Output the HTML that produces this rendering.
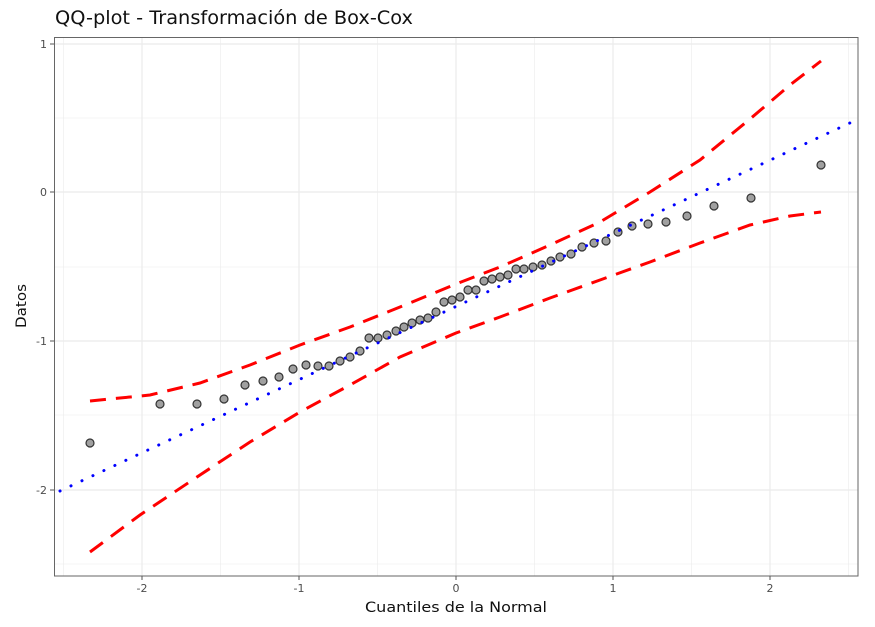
<!DOCTYPE html>
<html><head><meta charset="utf-8"><style>
body{margin:0;background:#fff;}
svg text{font-family:"DejaVu Sans","Liberation Sans",sans-serif;}
</style></head><body>
<svg width="875" height="622" xmlns="http://www.w3.org/2000/svg">
<rect width="875" height="622" fill="#fff"/>
<g stroke="#ebebeb" stroke-width="0.6">
<line x1="54" x2="858" y1="564" y2="564"/><line x1="54" x2="858" y1="415" y2="415"/><line x1="54" x2="858" y1="267" y2="267"/><line x1="54" x2="858" y1="118" y2="118"/>
<line y1="37" y2="576" x1="63.5" x2="63.5"/><line y1="37" y2="576" x1="220.5" x2="220.5"/><line y1="37" y2="576" x1="377.5" x2="377.5"/><line y1="37" y2="576" x1="534.5" x2="534.5"/><line y1="37" y2="576" x1="691.5" x2="691.5"/><line y1="37" y2="576" x1="848.5" x2="848.5"/>
</g>
<g stroke="#ebebeb" stroke-width="1.2">
<line x1="54" x2="858" y1="44" y2="44"/><line x1="54" x2="858" y1="192" y2="192"/><line x1="54" x2="858" y1="341" y2="341"/><line x1="54" x2="858" y1="490" y2="490"/>
<line y1="37" y2="576" x1="142" x2="142"/><line y1="37" y2="576" x1="299" x2="299"/><line y1="37" y2="576" x1="456" x2="456"/><line y1="37" y2="576" x1="613" x2="613"/><line y1="37" y2="576" x1="770" x2="770"/>
</g>
<g fill="#a0a0a0" stroke="#333" stroke-width="1.2">
<circle cx="90" cy="443" r="4"/><circle cx="160" cy="404" r="4"/><circle cx="197" cy="404" r="4"/><circle cx="224" cy="399" r="4"/><circle cx="245" cy="385" r="4"/><circle cx="263" cy="381" r="4"/><circle cx="279" cy="377" r="4"/><circle cx="293" cy="369" r="4"/><circle cx="306" cy="365" r="4"/><circle cx="318" cy="366" r="4"/><circle cx="329" cy="366" r="4"/><circle cx="340" cy="361" r="4"/><circle cx="350" cy="357" r="4"/><circle cx="360" cy="351" r="4"/><circle cx="369" cy="338" r="4"/><circle cx="378" cy="338" r="4"/><circle cx="387" cy="335" r="4"/><circle cx="396" cy="331" r="4"/><circle cx="404" cy="327" r="4"/><circle cx="412" cy="323" r="4"/><circle cx="420" cy="320" r="4"/><circle cx="428" cy="318" r="4"/><circle cx="436" cy="312" r="4"/><circle cx="444" cy="302" r="4"/><circle cx="452" cy="300" r="4"/><circle cx="460" cy="297" r="4"/><circle cx="468" cy="290" r="4"/><circle cx="476" cy="290" r="4"/><circle cx="484" cy="281" r="4"/><circle cx="492" cy="279" r="4"/><circle cx="500" cy="277" r="4"/><circle cx="508" cy="275" r="4"/><circle cx="516" cy="269" r="4"/><circle cx="524" cy="269" r="4"/><circle cx="533" cy="267" r="4"/><circle cx="542" cy="265" r="4"/><circle cx="551" cy="261" r="4"/><circle cx="560" cy="257" r="4"/><circle cx="571" cy="254" r="4"/><circle cx="582" cy="247" r="4"/><circle cx="594" cy="243" r="4"/><circle cx="606" cy="241" r="4"/><circle cx="618" cy="232" r="4"/><circle cx="632" cy="226" r="4"/><circle cx="648" cy="224" r="4"/><circle cx="666" cy="222" r="4"/><circle cx="687" cy="216" r="4"/><circle cx="714" cy="206" r="4"/><circle cx="751" cy="198" r="4"/><circle cx="821" cy="165" r="4"/>
</g>
<line x1="60" y1="491" x2="852" y2="122" stroke="#0000ff" stroke-width="3" stroke-dasharray="0.1 12" stroke-linecap="round"/>
<g fill="none" stroke="#ff0000" stroke-width="3" stroke-dasharray="16 10">
<polyline points="90,401 150,395 200,383 250,365 300,345 350,327 400,307 456,284 500,267 550,245 600,222 650,192 700,160 750,119 790,85 821,61"/>
<polyline points="90,552 140,515 200,475 250,442 300,412 350,385 400,357 456,333 500,317 550,298 600,280 650,262 700,243 750,225 790,216 821,212"/>
</g>
<rect x="54.5" y="37.5" width="803.5" height="538.5" fill="none" stroke="#666" stroke-width="1"/>
<g stroke="#555" stroke-width="1">
<line x1="50" x2="54" y1="44" y2="44"/><line x1="50" x2="54" y1="192" y2="192"/><line x1="50" x2="54" y1="341" y2="341"/><line x1="50" x2="54" y1="490" y2="490"/>
<line y1="576" y2="580" x1="142" x2="142"/><line y1="576" y2="580" x1="299" x2="299"/><line y1="576" y2="580" x1="456" x2="456"/><line y1="576" y2="580" x1="613" x2="613"/><line y1="576" y2="580" x1="770" x2="770"/>
</g>
<g font-size="11" fill="#4d4d4d" text-anchor="end">
<text x="47" y="48">1</text><text x="47" y="196">0</text><text x="47" y="345">-1</text><text x="47" y="494">-2</text>
</g>
<g font-size="11" fill="#4d4d4d" text-anchor="middle">
<text x="142" y="592">-2</text><text x="299" y="592">-1</text><text x="456" y="592">0</text><text x="613" y="592">1</text><text x="770" y="592">2</text>
</g>
<text x="456" y="612" font-size="14" text-anchor="middle" fill="#111" textLength="182" lengthAdjust="spacingAndGlyphs">Cuantiles de la Normal</text>
<text transform="translate(26,306) rotate(-90)" font-size="14" text-anchor="middle" fill="#111" textLength="44" lengthAdjust="spacingAndGlyphs">Datos</text>
<text x="55" y="24" font-size="19" fill="#111" textLength="358" lengthAdjust="spacingAndGlyphs">QQ-plot - Transformación de Box-Cox</text>
</svg>
</body></html>
